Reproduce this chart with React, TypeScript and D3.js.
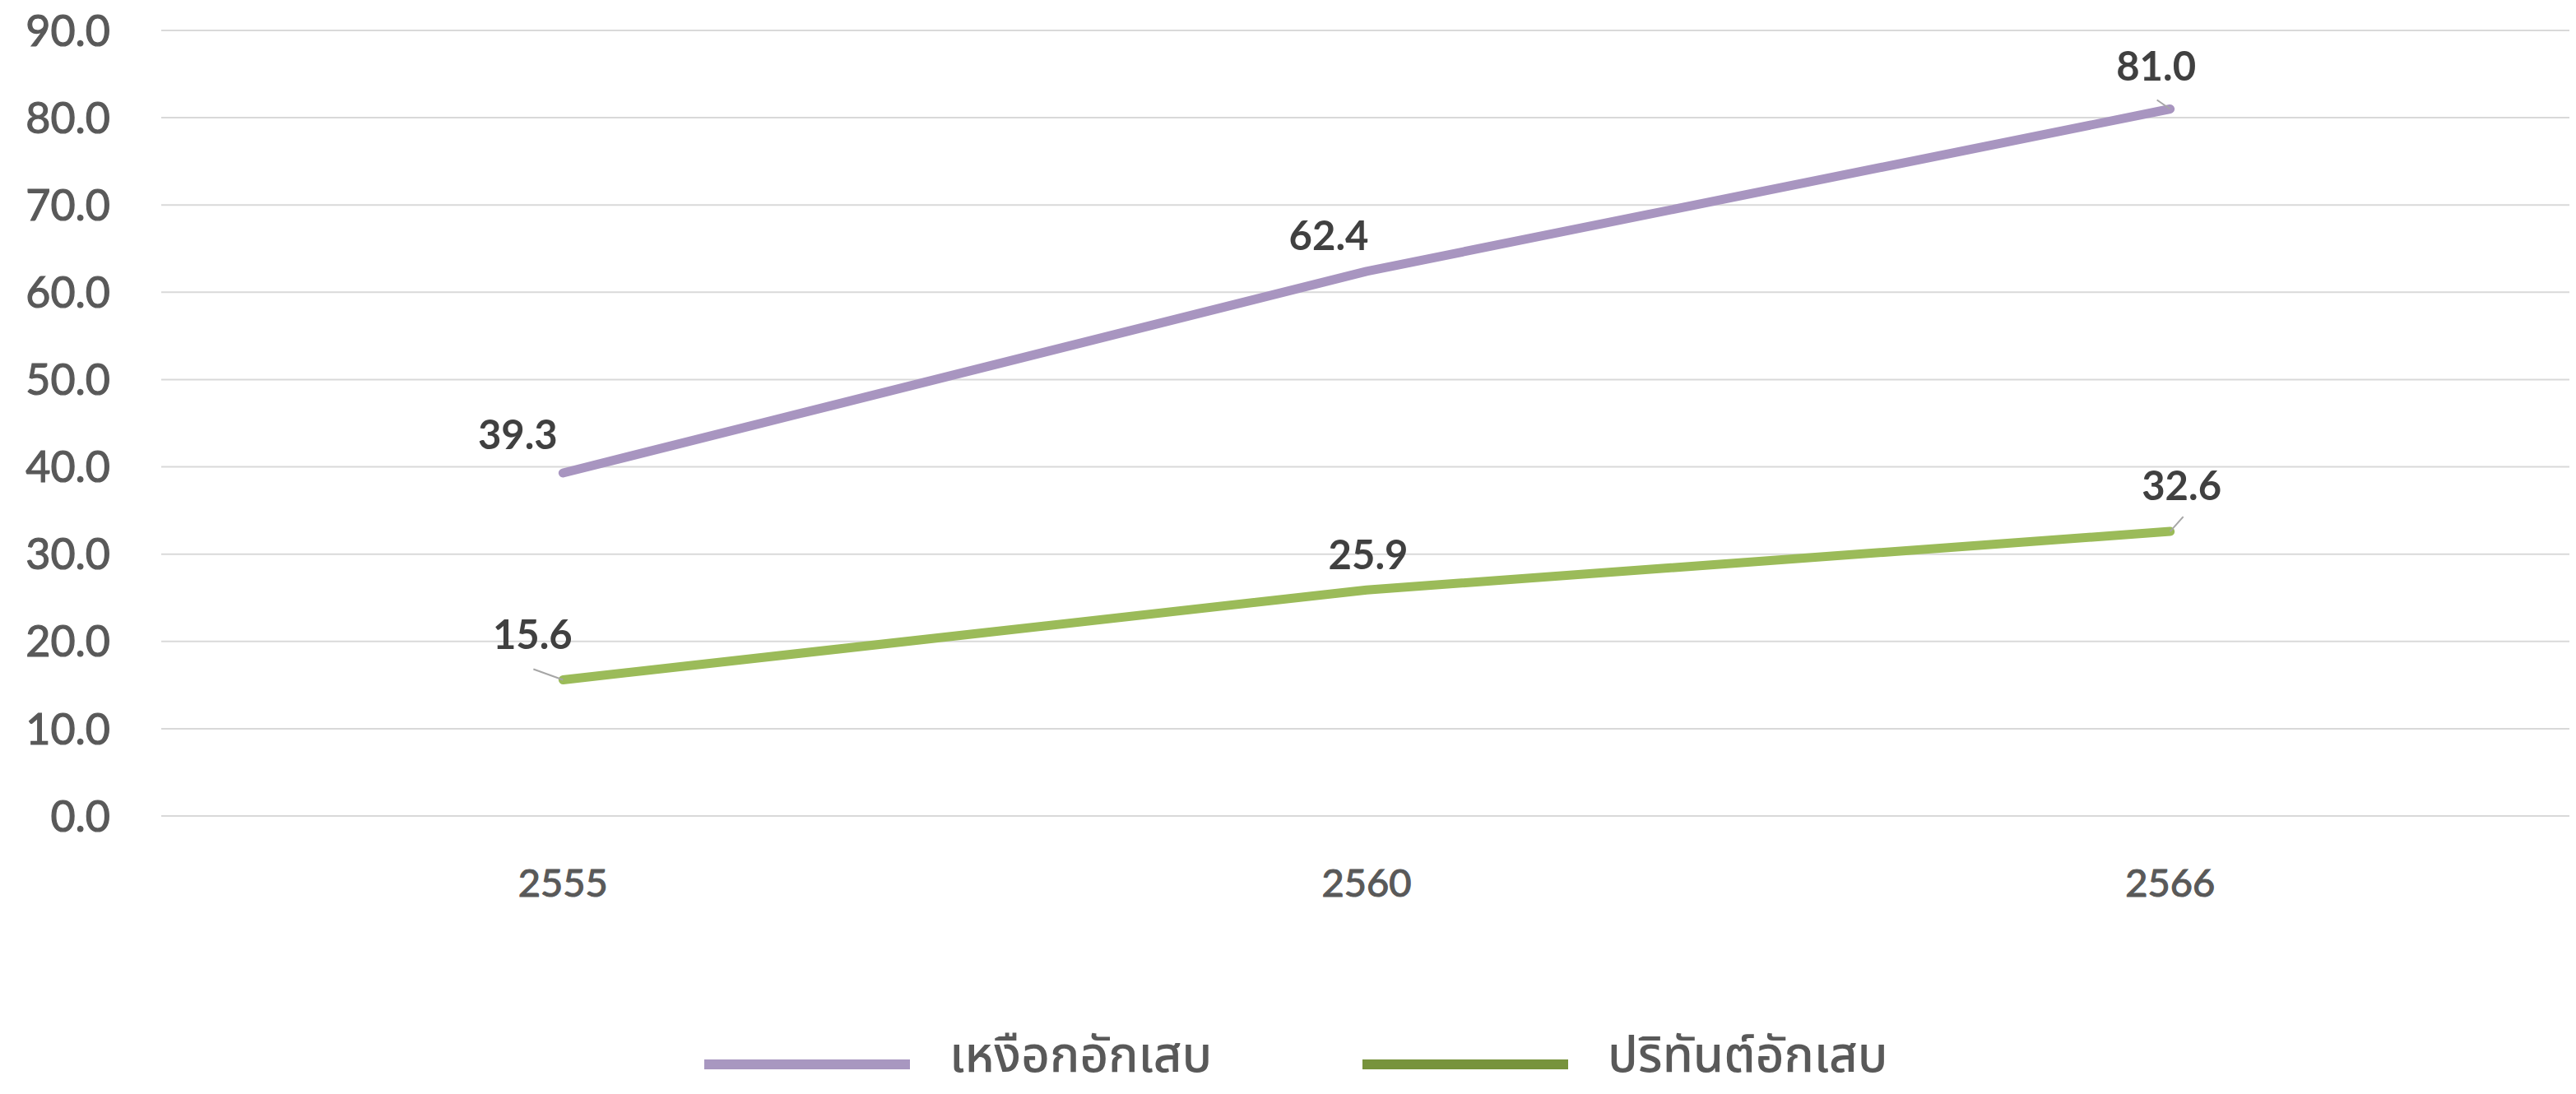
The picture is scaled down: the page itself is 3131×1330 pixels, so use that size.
import React, { useEffect, useRef } from 'react';
import * as d3 from 'd3';

const years = ['2555', '2560', '2566'];
const seriesNames = ['เหงือกอักเสบ', 'ปริทันต์อักเสบ'];
const gingivitis = [39.3, 62.4, 81.0];
const periodontitis = [15.6, 25.9, 32.6];
const yTicks = [0, 10, 20, 30, 40, 50, 60, 70, 80, 90];

const lineColors = ['#a895c0', '#9bbb59'];
const legendColors = ['#a897c0', '#77933c'];

// data label centre relative to its point [dx, dy]
const labelOffsets = [
  [[-55, -47], [-46, -44], [-17, -52]],
  [[-37, -55], [2, -43], [14, -56]],
];
// leader line start relative to its point, null when none
const leaders = [
  [null, null, [-16, -11]],
  [[-36, -13], null, [16, -18]],
];

function App() {
  const ref = useRef<SVGSVGElement>(null);

  useEffect(() => {
    const svg = d3.select(ref.current);
    svg.selectAll('*').remove();

    const width = 3131, height = 1330;
    const margin = { top: 37, right: 5, bottom: 338, left: 196 };
    const font = 'Lato, "Noto Sans", sans-serif';
    const thaiFont = '"Noto Sans Thai", "Noto Sans", sans-serif';

    const x = d3.scalePoint<string>()
      .domain(years)
      .range([margin.left, width - margin.right])
      .padding(0.5);

    const y = d3.scaleLinear()
      .domain([0, 90])
      .range([height - margin.bottom, margin.top]);

    // gridlines
    svg.append('g')
      .selectAll('line')
      .data(yTicks)
      .join('line')
      .attr('x1', margin.left)
      .attr('x2', width - margin.right)
      .attr('y1', d => y(d))
      .attr('y2', d => y(d))
      .attr('stroke', '#d9d9d9')
      .attr('stroke-width', 2);

    // y axis labels (thin stroke to get a medium weight)
    svg.append('g')
      .selectAll('text')
      .data(yTicks)
      .join('text')
      .attr('x', 134)
      .attr('y', d => y(d))
      .attr('dy', '0.36em')
      .attr('text-anchor', 'end')
      .attr('font-family', font)
      .attr('font-size', 52)
      .attr('fill', '#595959')
      .attr('stroke', '#595959')
      .attr('stroke-width', 1.2)
      .text(d => d.toFixed(1));

    // x axis labels
    svg.append('g')
      .selectAll('text')
      .data(years)
      .join('text')
      .attr('x', d => x(d)!)
      .attr('y', 1073)
      .attr('dy', '0.36em')
      .attr('text-anchor', 'middle')
      .attr('font-family', font)
      .attr('font-size', 47)
      .attr('fill', '#595959')
      .attr('stroke', '#595959')
      .attr('stroke-width', 1.2)
      .text(d => d);

    const line = d3.line<number>()
      .x((_, i) => x(years[i])!)
      .y(d => y(d));

    [gingivitis, periodontitis].forEach((vals, s) => {
      svg.append('path')
        .datum(vals)
        .attr('fill', 'none')
        .attr('stroke', lineColors[s])
        .attr('stroke-width', 11)
        .attr('stroke-linecap', 'round')
        .attr('stroke-linejoin', 'round')
        .attr('d', line);

      const g = svg.append('g');
      vals.forEach((v, i) => {
        const px = x(years[i])!, py = y(v);
        const [dx, dy] = labelOffsets[s][i];
        const lead = leaders[s][i];
        if (lead) {
          g.append('line')
            .attr('x1', px + lead[0])
            .attr('y1', py + lead[1])
            .attr('x2', px)
            .attr('y2', py)
            .attr('stroke', '#a6a6a6')
            .attr('stroke-width', 2);
        }
        g.append('text')
          .attr('x', px + dx)
          .attr('y', py + dy)
          .attr('dy', '0.36em')
          .attr('text-anchor', 'middle')
          .attr('font-family', font)
          .attr('font-size', 49)
          .attr('font-weight', 700)
          .attr('fill', '#404040')
          .text(v.toFixed(1));
      });
    });

    // legend
    const legendX = [856, 1656];
    const legend = svg.append('g');
    seriesNames.forEach((name, s) => {
      legend.append('line')
        .attr('x1', legendX[s])
        .attr('x2', legendX[s] + 250)
        .attr('y1', 1294)
        .attr('y2', 1294)
        .attr('stroke', legendColors[s])
        .attr('stroke-width', 12);
      legend.append('text')
        .attr('x', legendX[s] + 298)
        .attr('y', 1303)
        .attr('font-family', thaiFont)
        .attr('font-size', 60)
        .attr('font-weight', 500)
        .attr('fill', '#595959')
        .text(name);
    });
  }, []);

  return <svg ref={ref} width={3131} height={1330} style={{ display: 'block', margin: -8 }}></svg>;
}

export default App;
